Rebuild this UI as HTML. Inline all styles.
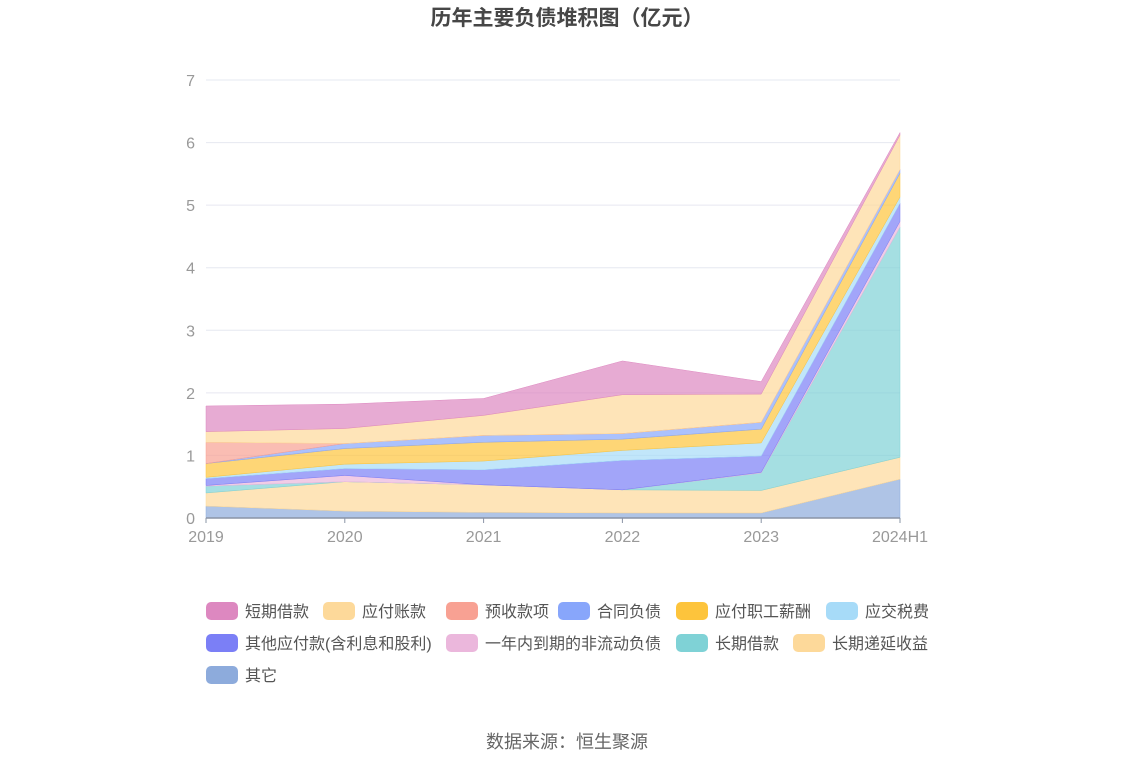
<!DOCTYPE html>
<html><head><meta charset="utf-8"><style>
body{margin:0;background:#fff;font-family:"Liberation Sans","Noto Sans CJK SC",sans-serif;}
#wrap{position:relative;width:1134px;height:766px;}
</style></head><body><div id="wrap">
<svg id="svg" width="1134" height="766" xmlns="http://www.w3.org/2000/svg">
<text x="567" y="25" text-anchor="middle" font-size="21" font-weight="bold" fill="#464646" font-family="Liberation Sans, Noto Sans CJK SC, sans-serif">历年主要负债堆积图（亿元）</text>
<g id="grid"></g><g id="areas"></g><g id="axes"></g><g id="legend"></g>
<text x="567" y="748" text-anchor="middle" font-size="18" fill="#666" font-family="Liberation Sans, Noto Sans CJK SC, sans-serif">数据来源：恒生聚源</text>
</svg></div>
<script>
const categories=["2019","2020","2021","2022","2023","2024H1"];
const seriesNames=["其它","长期递延收益","长期借款","一年内到期的非流动负债","其他应付款(含利息和股利)","应交税费","应付职工薪酬","合同负债","预收款项","应付账款","短期借款"];
const sQita=[0.19,0.11,0.09,0.08,0.08,0.62];
const sDiyan=[0.21,0.47,0.44,0.37,0.36,0.35];
const sChangqi=[0.11,0,0,0,0.28,3.68];
const sYinian=[0.01,0.10,0,0,0.01,0.09];
const sQitaYingfu=[0.11,0.11,0.24,0.47,0.26,0.29];
const sShuifei=[0.02,0.07,0.14,0.16,0.21,0.10];
const sZhigong=[0.22,0.25,0.30,0.18,0.22,0.38];
const sHetong=[0,0.08,0.11,0.09,0.11,0.06];
const sYushou=[0.34,0,0,0,0,0];
const sYingfu=[0.17,0.24,0.32,0.62,0.45,0.55];
const sDuanqi=[0.41,0.39,0.27,0.54,0.20,0.04];
const yTicks=[0,1,2,3,4,5,6,7];
const series=[sQita,sDiyan,sChangqi,sYinian,sQitaYingfu,sShuifei,sZhigong,sHetong,sYushou,sYingfu,sDuanqi];
const colors=["#8dabdc","#fdd99a","#7fd2d6","#ebb7dc","#7b7ff6","#a7dbf8","#fdc43c","#88a6fb","#f8a193","#fdd99a","#dd88c0"];
const slugs=["other","deferred-income","long-term-loan","current-noncurrent","other-payables","taxes-payable","payroll-payable","contract-liabilities","advance-receipts","accounts-payable","short-term-loan"];
const NS="http://www.w3.org/2000/svg";
const X0=206,X1=900,Y0=518,Ymax=7,YH=438;
const x=i=>X0+(X1-X0)*i/(categories.length-1);
const y=v=>Y0-v/Ymax*YH;
function mk(t,a,p){const e=document.createElementNS(NS,t);for(const k in a)e.setAttribute(k,a[k]);p.appendChild(e);return e;}
const grid=document.getElementById('grid'),axes=document.getElementById('axes'),areas=document.getElementById('areas'),legend=document.getElementById('legend');
yTicks.forEach(t=>{
 if(t>0){const l=mk('line',{x1:X0,x2:X1,y1:y(t),y2:y(t),stroke:'#e6e8f0','stroke-width':1},grid);
 
 }
 const tx=mk('text',{x:195,y:y(t)+6,'text-anchor':'end','font-size':16,fill:'#999'},axes);tx.textContent=t;
 
 
});
const ax=mk('line',{x1:X0,x2:X1,y1:Y0,y2:Y0,stroke:'#8a94a6','stroke-width':1.5},axes);


categories.forEach((c,i)=>{
 const tk=mk('line',{x1:x(i),x2:x(i),y1:Y0,y2:Y0+5,stroke:'#8a94a6'},axes);
 
 
 const tx=mk('text',{x:x(i),y:Y0+24,'text-anchor':'middle','font-size':16,fill:'#999'},axes);tx.textContent=c;
 
 
});
let base=categories.map(()=>0);
series.forEach((s,k)=>{
 const top=base.map((b,i)=>b+s[i]);
 let d='M'+top.map((v,i)=>x(i)+','+y(v)).join('L');
 for(let i=categories.length-1;i>=0;i--)d+='L'+x(i)+','+y(base[i]);
 d+='Z';
 const p=mk('path',{d:d,fill:colors[k],'fill-opacity':0.7,stroke:colors[k],'stroke-width':0.5},areas);
 
 
 base=top;
});
const legendOrder=[10,9,8,7,6,5,4,3,2,1,0];
const pos=[[206,611],[323,611],[446,611],[558,611],[676,611],[826,611],[206,643],[446,643],[676,643],[793,643],[206,675]];
legendOrder.forEach((k,j)=>{
 const g=mk('g',{},legend);
 
 
 const [lx,ly]=pos[j];
 mk('rect',{x:lx,y:ly-9,width:32,height:18,rx:5,fill:colors[k]},g);
 const t=mk('text',{x:lx+39,y:ly+6,'font-size':16,fill:'#555'},g);t.textContent=seriesNames[k];
});
</script></body></html>
